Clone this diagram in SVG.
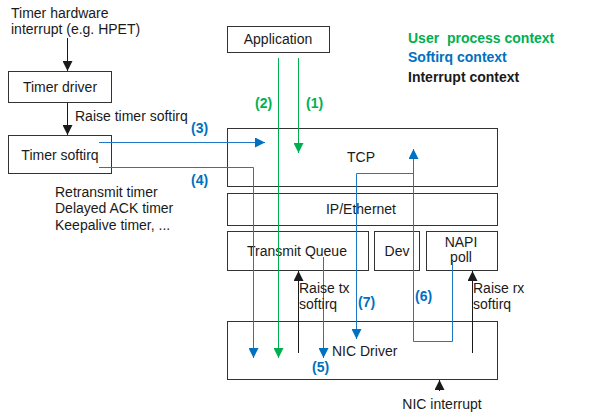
<svg xmlns="http://www.w3.org/2000/svg" width="590" height="419" viewBox="0 0 590 419">
<style>
text{font-family:"Liberation Sans",Arial,sans-serif;font-size:14px;fill:#1a1a1a}
.c{text-anchor:middle}
.box{fill:#fff;stroke:#333;stroke-width:1}
.bl{fill:none;stroke:#1f77c8;stroke-width:1}
.gr{fill:none;stroke:#00B050;stroke-width:1}
.bk{fill:none;stroke:#1a1a1a;stroke-width:1}
.tb{fill:#0070C0;font-weight:bold}
.tg{fill:#00B050;font-weight:bold}
.leg{font-weight:bold}
</style>
<defs>
<marker id="ab" viewBox="0 0 10 10" refX="10" refY="5" markerWidth="10" markerHeight="10" markerUnits="userSpaceOnUse" orient="auto"><path d="M0,0L10,5L0,10z" fill="#0070C0"/></marker>
<marker id="ag" viewBox="0 0 10 10" refX="10" refY="5" markerWidth="10" markerHeight="10" markerUnits="userSpaceOnUse" orient="auto"><path d="M0,0L10,5L0,10z" fill="#00B050"/></marker>
<marker id="ak" viewBox="0 0 10 10" refX="10" refY="5" markerWidth="10" markerHeight="10" markerUnits="userSpaceOnUse" orient="auto"><path d="M0,0L10,5L0,10z" fill="#1a1a1a"/></marker>
</defs>
<text x="11" y="18">Timer hardware</text>
<text x="11" y="34">interrupt (e.g. HPET)</text>
<g id="timer-driver"><rect class="box" x="8.5" y="71.5" width="103" height="31"/><text class="c" x="60" y="92">Timer driver</text></g>
<g id="timer-softirq"><rect class="box" x="8.5" y="135.5" width="103" height="38"/><text class="c" x="60" y="160">Timer softirq</text></g>
<text x="75" y="121">Raise timer softirq</text>
<text x="55" y="197">Retransmit timer</text>
<text x="55" y="213">Delayed ACK timer</text>
<text x="55" y="230">Keepalive timer, ...</text>
<g id="application"><rect class="box" x="227.5" y="26.5" width="102" height="26"/><text class="c" x="278" y="44">Application</text></g>
<g id="tcp"><rect class="box" x="227.5" y="128.5" width="270" height="58"/><text class="c" x="361" y="162">TCP</text></g>
<g id="ip"><rect class="box" x="227.5" y="193.5" width="270" height="32"/><text class="c" x="361" y="214">IP/Ethernet</text></g>
<g id="txq"><rect class="box" x="227.5" y="231.5" width="141" height="39"/><text class="c" x="297" y="256">Transmit Queue</text></g>
<g id="dev"><rect class="box" x="374.5" y="231.5" width="45" height="39"/><text class="c" x="397" y="256">Dev</text></g>
<g id="napi"><rect class="box" x="426.5" y="231.5" width="71" height="39"/><text class="c" x="461" y="247">NAPI</text><text class="c" x="461" y="262">poll</text></g>
<g id="nic"><rect class="box" x="227.5" y="321.5" width="270" height="58"/><text x="332" y="356">NIC Driver</text></g>
<g id="legend">
<text class="tg" x="408" y="43">User&#160; process context</text>
<text class="tb" x="408" y="62">Softirq context</text>
<text class="leg" x="408" y="82">Interrupt context</text>
</g>
<g id="connectors">
<path class="bk" d="M67.5,38V71" marker-end="url(#ak)"/>
<path class="bk" d="M67.5,103V135" marker-end="url(#ak)"/>
<path class="gr" d="M298.5,58V153" marker-end="url(#ag)"/>
<path class="gr" d="M278.5,58V358" marker-end="url(#ag)"/>
<path class="bl" d="M99,142.5H265" marker-end="url(#ab)"/>
<path class="bl" d="M99,167.5H253.5V358" marker-end="url(#ab)"/>
<path class="bl" d="M323.5,257V358" marker-end="url(#ab)"/>
<path class="bl" d="M452.5,262V341.5H413.5V149" marker-end="url(#ab)"/>
<path class="bl" d="M413.5,173.5H356.5V339" marker-end="url(#ab)"/>
<path class="bk" d="M298.5,353V271" marker-end="url(#ak)"/>
<path class="bk" d="M472.5,353V271" marker-end="url(#ak)"/>
<path class="bk" d="M439.5,391V380" marker-end="url(#ak)"/>
</g>
<text class="tb" x="191" y="133">(3)</text>
<text class="tb" x="191" y="185">(4)</text>
<text class="tg" x="255" y="108">(2)</text>
<text class="tg" x="306" y="108">(1)</text>
<text x="299" y="293">Raise tx</text>
<text x="299" y="309">softirq</text>
<text x="473" y="293">Raise rx</text>
<text x="473" y="309">softirq</text>
<text class="tb" x="358" y="307">(7)</text>
<text class="tb" x="415" y="301">(6)</text>
<text class="tb" x="312" y="372">(5)</text>
<text class="c" x="442" y="409">NIC interrupt</text>
</svg>
